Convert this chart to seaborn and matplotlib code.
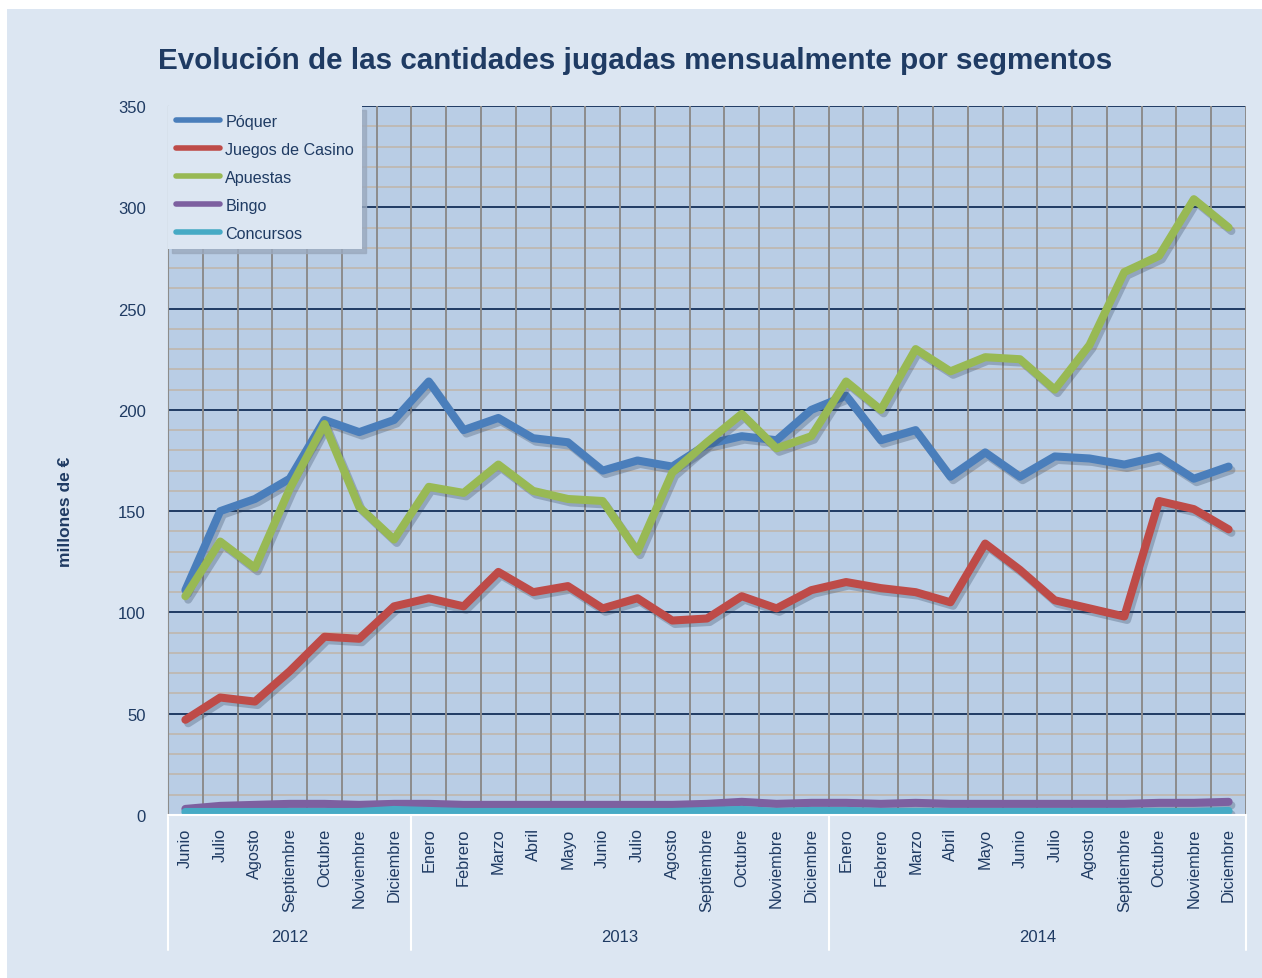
import numpy as np
import pandas as pd
import seaborn as sns
import matplotlib.pyplot as plt
import matplotlib.patheffects as pe
from matplotlib.patches import Rectangle
from matplotlib.ticker import MultipleLocator

# Months shown on the x axis
months = ['Junio', 'Julio', 'Agosto', 'Septiembre', 'Octubre', 'Noviembre', 'Diciembre',
          'Enero', 'Febrero', 'Marzo', 'Abril', 'Mayo', 'Junio', 'Julio', 'Agosto',
          'Septiembre', 'Octubre', 'Noviembre', 'Diciembre',
          'Enero', 'Febrero', 'Marzo', 'Abril', 'Mayo', 'Junio', 'Julio', 'Agosto',
          'Septiembre', 'Octubre', 'Noviembre', 'Diciembre']
years = ['2012', '2013', '2014']
year_counts = [7, 12, 12]

# Values (millones de euros)
poquer = [111, 150, 156, 166, 195, 189, 195, 214, 190, 196, 186, 184, 170, 175, 172,
          183, 187, 185, 200, 207, 185, 190, 167, 179, 167, 177, 176, 173, 177, 166, 172]
casino = [47, 58, 56, 71, 88, 87, 103, 107, 103, 120, 110, 113, 102, 107, 96,
          97, 108, 102, 111, 115, 112, 110, 105, 134, 121, 106, 102, 98, 155, 151, 141]
apuestas = [108, 135, 122, 161, 193, 152, 136, 162, 159, 173, 160, 156, 155, 130, 169,
            184, 198, 181, 187, 214, 200, 230, 219, 226, 225, 210, 232, 268, 276, 304, 290]
bingo = [3, 4.5, 5, 5.5, 5.5, 5, 5.5, 5.5, 5, 5, 5, 5, 5, 5, 5,
         5.5, 6.5, 5.5, 6, 6, 5.5, 6, 5.5, 5.5, 5.5, 5.5, 5.5, 5.5, 6, 6, 6.5]
concursos = [1.5, 1.5, 1.5, 1.5, 1.5, 1.5, 2.5, 2, 1.5, 1.5, 1.5, 1.5, 1.5, 1.5, 1.5,
             2, 2.5, 1.5, 2, 2, 1.5, 1.5, 1.5, 1.5, 1.5, 1.5, 1.5, 1.5, 1.5, 1.5, 2]

segments = ['Póquer', 'Juegos de Casino', 'Apuestas', 'Bingo', 'Concursos']
colors = ['#4a7ebb', '#be4b48', '#98b954', '#7d60a0', '#46aac5']

df = pd.DataFrame({
    'idx': list(range(len(months))) * 5,
    'valor': poquer + casino + apuestas + bingo + concursos,
    'segmento': np.repeat(segments, len(months)),
})

text_col = '#1f3b63'
bg_col = '#dce6f2'
plot_col = '#b9cde5'

sns.set_style('white')
plt.rcParams['font.family'] = ['Liberation Sans', 'DejaVu Sans']

fig = plt.figure(figsize=(12.62, 9.79), dpi=100, facecolor='white')
fig.patches.append(Rectangle((7 / 1262, 0), 1, 969 / 979, transform=fig.transFigure,
                             facecolor=bg_col, edgecolor='none', zorder=-10))
ax = fig.add_axes([168 / 1262, 163 / 979, 1078 / 1262, 709 / 979])
ax.set_facecolor(plot_col)

sns.lineplot(data=df, x='idx', y='valor', hue='segmento', hue_order=segments,
             palette=colors, linewidth=5.8, ax=ax, legend=True)

for line in ax.lines:
    line.set_solid_capstyle('round')
    line.set_solid_joinstyle('round')
    line.set_path_effects([pe.SimpleLineShadow(offset=(2, -2.5), shadow_color='#2c3e58', alpha=0.28),
                           pe.Normal()])

# grid
ax.set_xlim(-0.5, len(months) - 0.5)
ax.set_ylim(0, 350)
ax.yaxis.set_major_locator(MultipleLocator(50))
ax.yaxis.set_minor_locator(MultipleLocator(10))
ax.grid(which='minor', axis='y', color='#bfb8b2', linewidth=1.3)
ax.grid(which='major', axis='y', color='#1f3b63', linewidth=1.4)
for k in range(len(months) + 1):
    ax.axvline(k - 0.5, color='#8c8c8c', linewidth=1.4, zorder=0.8)
ax.set_axisbelow(True)

for s in ['top', 'right']:
    ax.spines[s].set_visible(False)
ax.spines['left'].set_color('#8c8c8c')
ax.spines['bottom'].set_color('white')
ax.spines['bottom'].set_linewidth(1.5)

ax.set_xticks(range(len(months)))
ax.set_xticklabels(months, rotation=90, fontsize=11.8, color=text_col)
ax.tick_params(axis='x', length=0, pad=9)
ax.tick_params(axis='y', which='both', length=0, pad=16, labelsize=12, labelcolor=text_col)
ax.set_xlabel('')
ax.set_ylabel('')

# year groups
start = 0
for yr, n in zip(years, year_counts):
    ax.text(start + (n - 1) / 2, -0.172, yr, transform=ax.get_xaxis_transform(),
            ha='center', va='center', fontsize=12, color=text_col)
    ax.plot([start - 0.5, start - 0.5], [0, -0.19], transform=ax.get_xaxis_transform(),
            color='white', linewidth=1.5, clip_on=False)
    start += n
ax.plot([start - 0.5, start - 0.5], [0, -0.19], transform=ax.get_xaxis_transform(),
        color='white', linewidth=1.5, clip_on=False)

# legend
handles, labels = ax.get_legend_handles_labels()
for h in handles:
    h.set_linewidth(4)
    h.set_solid_capstyle('round')
    h.set_path_effects([])
leg = ax.legend(handles, labels, loc='upper left', bbox_to_anchor=(0, 1), borderaxespad=0,
                fontsize=11.6, handlelength=2.75, handletextpad=0.3, labelspacing=0.8,
                frameon=True, fancybox=False, borderpad=0.5,
                shadow={'color': '#9aa9be', 'alpha': 0.8, 'ox': 3, 'oy': -3})
leg.get_frame().set_facecolor(bg_col)
leg.get_frame().set_edgecolor('none')
leg.get_frame().set_alpha(1)
for t in leg.get_texts():
    t.set_color(text_col)

fig.text(635 / 1262, 1 - 61 / 979, 'Evolución de las cantidades jugadas mensualmente por segmentos',
         ha='center', va='center', fontsize=21.3, fontweight='bold', color=text_col)
fig.text(66 / 1262, 1 - 512 / 979, 'millones de €', rotation=90, ha='center', va='center',
         fontsize=12.5, fontweight='bold', color=text_col)

fig.savefig('out.png', dpi=100, facecolor=fig.get_facecolor())
